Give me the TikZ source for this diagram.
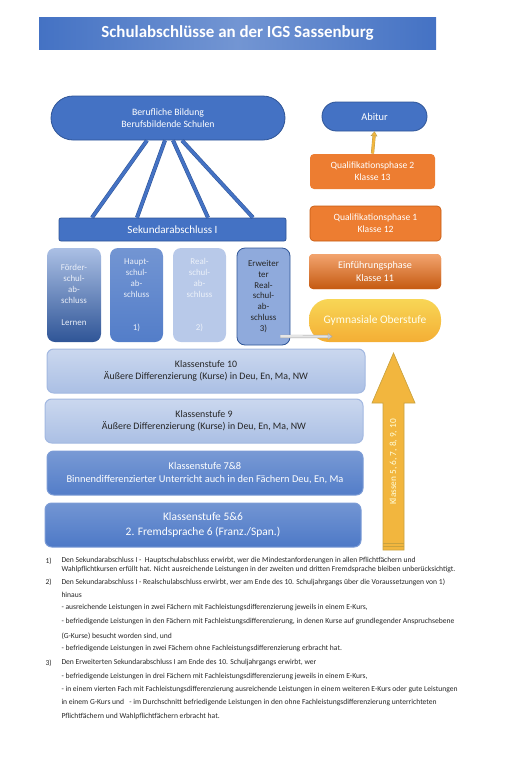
\documentclass[tikz,border=0pt]{standalone}
\usepackage{fontspec}
\setmainfont{Carlito}
\usetikzlibrary{arrows.meta,calc}

\definecolor{igsblue}{HTML}{4472C4}
\definecolor{igsedge}{HTML}{2F5597}
\definecolor{igsorange}{HTML}{ED7D31}
\definecolor{orangeedge}{HTML}{C55A11}
\definecolor{goldfill}{HTML}{F2B63E}
\definecolor{goldedge}{HTML}{C9A23E}
\definecolor{notetext}{HTML}{262626}

\tikzset{every picture/.style={line width=0.75pt}}
\tikzset{
  sz/.style 2 args={minimum width=#1*0.75pt,minimum height=#2*0.75pt,inner sep=0pt},
  darkbox/.style={draw=igsedge,line width=0.6pt,fill=igsblue,text=white,align=center,
    font=\fontsize{7.3}{9.2}\selectfont},
  phase/.style={fill=igsorange,text=white,rounded corners=3pt,align=center,
    font=\fontsize{7.2}{9.2}\selectfont},
  endbox/.style={rounded corners=6pt,align=center,font=\fontsize{6.7}{8.2}\selectfont},
  stage/.style={rounded corners=5pt,align=center,font=\fontsize{7.4}{9.3}\selectfont},
  link/.style={draw=igsedge,line width=0.4pt,double=igsblue,double distance=2.2pt},
  note/.style={anchor=west,inner sep=0pt,text=notetext,font=\fontsize{5.7}{6.5}\selectfont}
}

\begin{document}
\begin{tikzpicture}[x=0.75pt,y=0.75pt,yscale=-1,xscale=1]
\useasboundingbox (0,0) rectangle (520,758);

% title bar
\node[sz={397}{32},left color=igsblue,right color=igsblue,middle color=igsblue!75!white,
  text=white,font=\fontsize{12.7}{15}\selectfont\bfseries] (title) at (237.5,33)
  {Schulabschlüsse an der IGS Sassenburg};

% upper blue boxes
\node[darkbox,sz={234}{44},rounded corners=16.5pt] (beruf) at (168,118)
  {Berufliche Bildung\\Berufsbildende Schulen};
\node[darkbox,sz={227}{23},rounded corners=1.5pt,font=\fontsize{8.3}{9}\selectfont] (sek) at (172.5,229.5)
  {Sekundarabschluss I};
\node[darkbox,sz={105}{29},rounded corners=10.8pt,font=\fontsize{7.8}{9}\selectfont] (abitur) at (374.5,116.5)
  {Abitur};

% links Sekundarabschluss -> Berufliche Bildung
\draw[link] ($(beruf.south)+(-21,0)$) -- ($(sek.north)+(-80.5,0)$);
\draw[link] ($(beruf.south)+(-3,0)$) -- ($(sek.north)+(-35.5,0)$);
\draw[link] ($(beruf.south)+(5,0)$) -- ($(sek.north)+(35.5,0)$);
\draw[link] ($(beruf.south)+(14,0)$) -- ($(sek.north)+(80.5,0)$);

% Oberstufe
\node[phase,sz={125}{35}] (qphase2) at (372.5,171.5) {Qualifikationsphase 2\\Klasse 13};
\node[phase,sz={131}{35},draw=orangeedge,line width=0.5pt] (qphase1) at (375.5,223.5) {Qualifikationsphase 1\\Klasse 12};
\node[phase,sz={132}{35},top color=igsorange!70!white,bottom color=orangeedge,
  font=\fontsize{7.6}{9.4}\selectfont] (einf) at (375,271.5) {Einführungsphase\\Klasse 11};
\node[sz={132}{43},rounded corners=15pt,top color=goldfill!70!yellow!80!white,bottom color=goldfill!85!orange,
  text=white!92!yellow,font=\fontsize{8.6}{10}\selectfont] (gym) at (375,320.5) {Gymnasiale Oberstufe};

\draw[draw=goldedge!80!gray,line width=0.3pt,double=goldfill,double distance=1.8pt,
  -{Triangle[width=5pt,length=3.5pt,fill=goldfill]}] (qphase2.north) -- (abitur.south);

% Abschluesse
\node[endbox,sz={54}{94},top color=igsblue!45!white,bottom color=igsedge,text=white!88!igsblue] (foerder) at (74,295)
  {Förder-\\schul-\\ab-\\schluss\\~\\Lernen};
\node[endbox,sz={53}{94},top color=igsblue!75!white,bottom color=igsblue!92!white,text=white!88!igsblue] (haupt) at (136.5,295)
  {Haupt-\\schul-\\ab-\\schluss\\~\\~\\1)};
\node[endbox,sz={53}{94},fill=igsblue!38!white,text=white!90!igsblue] (real) at (199.5,295)
  {Real-\\schul-\\ab-\\schluss\\~\\~\\2)};
\node[endbox,sz={53}{97},fill=igsblue!60!white,draw=igsedge,line width=0.6pt,text=black!85] (erw) at (263.5,296.5)
  {Erweiter\\ter\\Real-\\schul-\\ab-\\schluss\\3)};

\draw[draw=gray!70,line width=0.3pt,double=white!80!gray,double distance=1.8pt,
  -{Triangle[width=5pt,length=3.5pt,fill=gray!40]}] ($(erw.south east)+(-10,-9)$) -- ($(gym.south west)+(24,-6)$);

% Klassenstufen
\node[stage,sz={318}{44},top color=igsblue!28!white,bottom color=igsblue!45!white,draw=igsblue!50!white,text=black!85] (k10) at (206,371)
  {Klassenstufe 10\\Äußere Differenzierung (Kurse) in Deu, En, Ma, NW};
\node[stage,sz={318}{44},top color=igsblue!28!white,bottom color=igsblue!45!white,draw=igsblue!50!white,text=black!85] (k9) at (204,421)
  {Klassenstufe 9\\Äußere Differenzierung (Kurse) in Deu, En, Ma, NW};
\node[stage,sz={316}{44},top color=igsblue!72!white,bottom color=igsblue!92!white,draw=igsblue!70!white,text=white,
  font=\fontsize{7.8}{9.5}\selectfont] (k78) at (205,473)
  {Klassenstufe 7\&8\\Binnendifferenzierter Unterricht auch in den Fächern Deu, En, Ma};
\node[stage,sz={316}{44},top color=igsblue!75!white,bottom color=igsblue!95!white,draw=igsblue!70!white,text=white,
  font=\fontsize{8.6}{11}\selectfont] (k56) at (203,525)
  {Klassenstufe 5\&6\\2. Fremdsprache 6 (Franz./Span.)};

% big arrow
\draw[fill=goldfill,draw=goldedge,line width=0.5pt] (383,550) -- (383,403) -- (372,403) -- (393.5,353)
  -- (415,403) -- (404,403) -- (404,550) -- cycle;
\draw[goldedge,line width=0.5pt] (383,543) -- (404,543) (383,546.5) -- (404,546.5);
\node[rotate=90,text=white!85!yellow,font=\fontsize{7}{8}\selectfont] (klassen) at (393.5,462)
  {Klassen 5, 6, 7, 8, 9, 10};

% notes
\node[note] (n1) at (45,561) {1)};
\node[note] (n1a) at (61,561) {Den Sekundarabschluss I -\ \ Hauptschulabschluss erwirbt, wer die Mindestanforderungen in allen Pflichtfächern und};
\node[note] (n1b) at (61,570) {Wahlpflichtkursen erfüllt hat. Nicht ausreichende Leistungen in der zweiten und dritten Fremdsprache bleiben unberücksichtigt.};
\node[note] (n2) at (45,582) {2)};
\node[note] (n2a) at (61,582) {Den Sekundarabschluss I - Realschulabschluss erwirbt, wer am Ende des 10. Schuljahrgangs über die Voraussetzungen von 1)};
\node[note] (n2b) at (61,595) {hinaus};
\node[note] (n2c) at (61,608) {- ausreichende Leistungen in zwei Fächern mit Fachleistungsdifferenzierung jeweils in einem E-Kurs,};
\node[note] (n2d) at (61,622) {- befriedigende Leistungen in den Fächern mit Fachleistungsdifferenzierung, in denen Kurse auf grundlegender Anspruchsebene};
\node[note] (n2e) at (61,636) {(G-Kurse) besucht worden sind, und};
\node[note] (n2f) at (61,649) {- befriedigende Leistungen in zwei Fächern ohne Fachleistungsdifferenzierung erbracht hat.};
\node[note] (n3) at (45,663) {3)};
\node[note] (n3a) at (61,663) {Den Erweiterten Sekundarabschluss I am Ende des 10. Schuljahrgangs erwirbt, wer};
\node[note] (n3b) at (61,677) {- befriedigende Leistungen in drei Fächern mit Fachleistungsdifferenzierung jeweils in einem E-Kurs,};
\node[note] (n3c) at (61,690) {- in einem vierten Fach mit Fachleistungsdifferenzierung ausreichende Leistungen in einem weiteren E-Kurs oder gute Leistungen};
\node[note] (n3d) at (61,703) {in einem G-Kurs und\ \ \ - im Durchschnitt befriedigende Leistungen in den ohne Fachleistungsdifferenzierung unterrichteten};
\node[note] (n3e) at (61,716) {Pflichtfächern und Wahlpflichtfächern erbracht hat.};

\end{tikzpicture}
\end{document}
